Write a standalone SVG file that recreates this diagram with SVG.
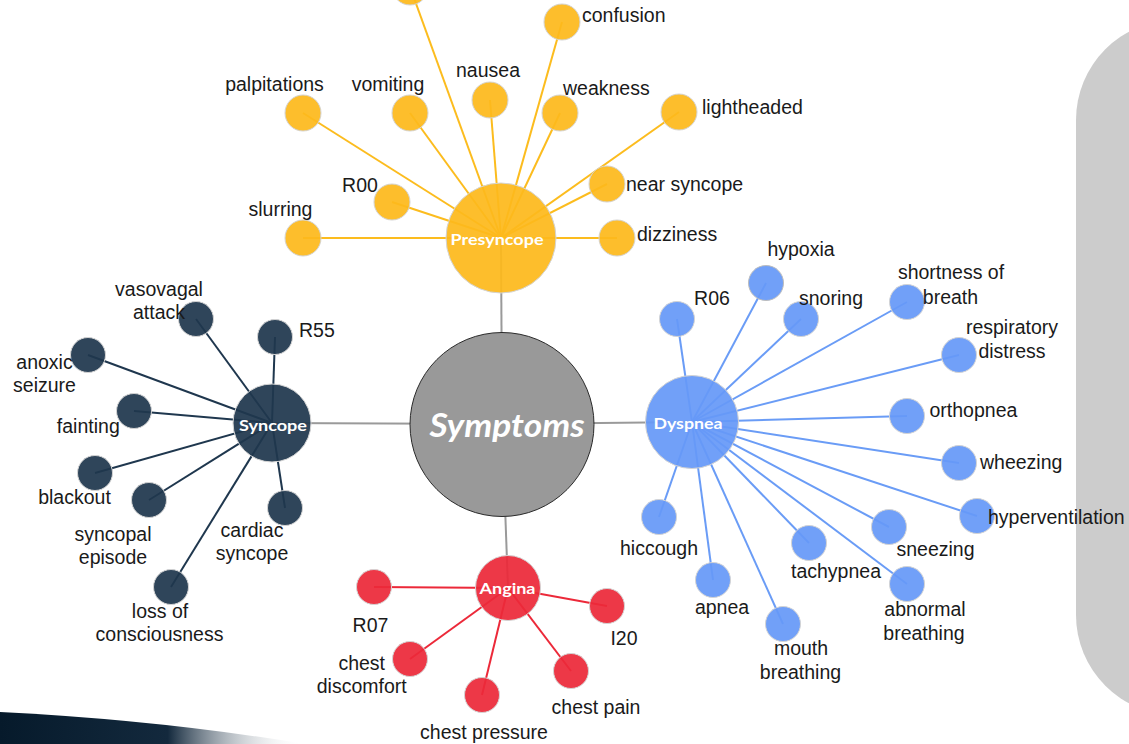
<svg xmlns="http://www.w3.org/2000/svg" width="1129" height="744" viewBox="0 0 1129 744">
<defs>
<linearGradient id="swoosh" x1="0" y1="0" x2="1" y2="0">
<stop offset="0" stop-color="#061a2b"/>
<stop offset="0.55" stop-color="#13293d"/>
<stop offset="1" stop-color="#ffffff" stop-opacity="0"/>
</linearGradient>
<style>
.lbl{font-family:"Liberation Sans",Arial,sans-serif;font-size:19.5px;fill:#1a1a1a}
.m{text-anchor:middle}
.hub{font-family:Lato,"Open Sans",sans-serif;font-weight:bold;font-size:16px;fill:#ffffff;text-anchor:middle}
.c{stroke:#d4d4d4;stroke-width:1;fill-opacity:0.93}
.pre{fill:#fdb91c}
.syn{fill:#1f374e}
.dys{fill:#6699f8}
.ang{fill:#ec2939}
.lp{stroke:#fcbc1e;stroke-width:2}
.ls{stroke:#1f374e;stroke-width:2}
.ld{stroke:#6a9cf6;stroke-width:2}
.la{stroke:#ec2939;stroke-width:2}
.lg{stroke:#9a9a9a;stroke-width:2}
</style>
</defs>
<rect x="0" y="0" width="1129" height="744" fill="#ffffff"/>
<rect x="1076" y="20" width="220" height="695" rx="100" ry="100" fill="#cccccc"/>
<path d="M0,712 Q160,720 305,744 L0,744 Z" fill="url(#swoosh)"/>

<g id="connectors">
<line class="lg" x1="502" y1="424" x2="501" y2="238"/>
<line class="lg" x1="502" y1="424" x2="272" y2="423"/>
<line class="lg" x1="502" y1="424" x2="692" y2="422"/>
<line class="lg" x1="502" y1="424" x2="508" y2="588"/>

<line class="lp" x1="501" y1="238" x2="410" y2="-13"/>
<line class="lp" x1="501" y1="238" x2="562" y2="22"/>
<line class="lp" x1="501" y1="238" x2="303" y2="113"/>
<line class="lp" x1="501" y1="238" x2="410" y2="113"/>
<line class="lp" x1="501" y1="238" x2="490" y2="100"/>
<line class="lp" x1="501" y1="238" x2="560" y2="113"/>
<line class="lp" x1="501" y1="238" x2="679" y2="112"/>
<line class="lp" x1="501" y1="238" x2="607" y2="184"/>
<line class="lp" x1="501" y1="238" x2="617" y2="238"/>
<line class="lp" x1="501" y1="238" x2="392" y2="202"/>
<line class="lp" x1="501" y1="238" x2="303" y2="238"/>

<line class="ls" x1="272" y1="423" x2="196" y2="319"/>
<line class="ls" x1="272" y1="423" x2="275" y2="337"/>
<line class="ls" x1="272" y1="423" x2="88" y2="355"/>
<line class="ls" x1="272" y1="423" x2="134" y2="411"/>
<line class="ls" x1="272" y1="423" x2="95" y2="473"/>
<line class="ls" x1="272" y1="423" x2="149" y2="500"/>
<line class="ls" x1="272" y1="423" x2="285" y2="508"/>
<line class="ls" x1="272" y1="423" x2="171" y2="587"/>

<line class="ld" x1="692" y1="422" x2="766" y2="283"/>
<line class="ld" x1="692" y1="422" x2="677" y2="319"/>
<line class="ld" x1="692" y1="422" x2="801" y2="319"/>
<line class="ld" x1="692" y1="422" x2="907" y2="302"/>
<line class="ld" x1="692" y1="422" x2="959" y2="355"/>
<line class="ld" x1="692" y1="422" x2="907" y2="416"/>
<line class="ld" x1="692" y1="422" x2="959" y2="463"/>
<line class="ld" x1="692" y1="422" x2="977" y2="516"/>
<line class="ld" x1="692" y1="422" x2="889" y2="527"/>
<line class="ld" x1="692" y1="422" x2="907" y2="584"/>
<line class="ld" x1="692" y1="422" x2="809" y2="543"/>
<line class="ld" x1="692" y1="422" x2="783" y2="624"/>
<line class="ld" x1="692" y1="422" x2="713" y2="580"/>
<line class="ld" x1="692" y1="422" x2="659" y2="517"/>

<line class="la" x1="508" y1="588" x2="374" y2="587"/>
<line class="la" x1="508" y1="588" x2="607" y2="606"/>
<line class="la" x1="508" y1="588" x2="410" y2="659"/>
<line class="la" x1="508" y1="588" x2="482" y2="695"/>
<line class="la" x1="508" y1="588" x2="571" y2="671"/>
</g>

<g id="symptoms">
<circle cx="502" cy="424.5" r="92" fill="#999999" stroke="#2a2a2a" stroke-width="1"/>
<text x="507" y="437" font-family="Lato,'Open Sans',sans-serif" font-weight="bold" font-style="italic" font-size="33" fill="#ffffff" text-anchor="middle" textLength="155" lengthAdjust="spacingAndGlyphs">Symptoms</text>
</g>

<g id="presyncope">
<circle class="c pre" cx="501" cy="238" r="55"/>
<text class="hub" x="497" y="245" textLength="93" lengthAdjust="spacingAndGlyphs">Presyncope</text>
</g>
<g id="syncope">
<circle class="c syn" cx="272" cy="423" r="39"/>
<text class="hub" x="273" y="430.5" font-size="15" textLength="68" lengthAdjust="spacingAndGlyphs">Syncope</text>
</g>
<g id="dyspnea">
<circle class="c dys" cx="692" cy="422" r="46.5"/>
<text class="hub" x="688" y="428.5" font-size="15" textLength="69" lengthAdjust="spacingAndGlyphs">Dyspnea</text>
</g>
<g id="angina">
<circle class="c ang" cx="508" cy="588" r="32.5"/>
<text class="hub" x="507.5" y="593.5" font-size="15" textLength="56" lengthAdjust="spacingAndGlyphs">Angina</text>
</g>

<g id="p-top"><circle class="c pre" cx="410" cy="-13" r="18"/></g>
<g id="p-confusion"><circle class="c pre" cx="562" cy="22" r="18"/><text class="lbl" x="582" y="22">confusion</text></g>
<g id="p-palpitations"><circle class="c pre" cx="303" cy="113" r="18"/><text class="lbl m" x="274.5" y="91">palpitations</text></g>
<g id="p-vomiting"><circle class="c pre" cx="410" cy="113" r="18"/><text class="lbl m" x="388" y="91">vomiting</text></g>
<g id="p-nausea"><circle class="c pre" cx="490" cy="100" r="18"/><text class="lbl m" x="488" y="77">nausea</text></g>
<g id="p-weakness"><circle class="c pre" cx="560" cy="113" r="18"/><text class="lbl" x="563" y="95">weakness</text></g>
<g id="p-lightheaded"><circle class="c pre" cx="679" cy="112" r="18"/><text class="lbl" x="702" y="114">lightheaded</text></g>
<g id="p-nearsyncope"><circle class="c pre" cx="607" cy="184" r="18"/><text class="lbl" x="626" y="191">near syncope</text></g>
<g id="p-dizziness"><circle class="c pre" cx="617" cy="238" r="18"/><text class="lbl" x="637" y="241">dizziness</text></g>
<g id="p-r00"><circle class="c pre" cx="392" cy="202" r="18"/><text class="lbl m" x="360" y="192">R00</text></g>
<g id="p-slurring"><circle class="c pre" cx="303" cy="238" r="18"/><text class="lbl m" x="280.5" y="216">slurring</text></g>

<g id="s-vasovagal"><circle class="c syn" cx="196" cy="319" r="17.5"/><text class="lbl m" x="159" y="296">vasovagal</text><text class="lbl m" x="159" y="319">attack</text></g>
<g id="s-r55"><circle class="c syn" cx="275" cy="337" r="17.5"/><text class="lbl" x="299" y="337">R55</text></g>
<g id="s-anoxic"><circle class="c syn" cx="88" cy="355" r="17.5"/><text class="lbl m" x="44.5" y="369">anoxic</text><text class="lbl m" x="44.5" y="392">seizure</text></g>
<g id="s-fainting"><circle class="c syn" cx="134" cy="411" r="17.5"/><text class="lbl m" x="88.3" y="432.5">fainting</text></g>
<g id="s-blackout"><circle class="c syn" cx="95" cy="473" r="17.5"/><text class="lbl m" x="74.5" y="504">blackout</text></g>
<g id="s-syncopal"><circle class="c syn" cx="149" cy="500" r="17.5"/><text class="lbl m" x="113" y="541">syncopal</text><text class="lbl m" x="113" y="564">episode</text></g>
<g id="s-cardiac"><circle class="c syn" cx="285" cy="508" r="17.5"/><text class="lbl m" x="252" y="536.5">cardiac</text><text class="lbl m" x="252" y="560">syncope</text></g>
<g id="s-loss"><circle class="c syn" cx="171" cy="587" r="17.5"/><text class="lbl m" x="160" y="617.5">loss of</text><text class="lbl m" x="159.5" y="641">consciousness</text></g>

<g id="d-hypoxia"><circle class="c dys" cx="766" cy="283" r="17.5" style="stroke:#bdbdbd"/><text class="lbl m" x="801" y="256">hypoxia</text></g>
<g id="d-r06"><circle class="c dys" cx="677" cy="319" r="17.5"/><text class="lbl m" x="712" y="305">R06</text></g>
<g id="d-snoring"><circle class="c dys" cx="801" cy="319" r="17.5"/><text class="lbl m" x="831" y="305">snoring</text></g>
<g id="d-shortness"><circle class="c dys" cx="907" cy="302" r="17.5"/><text class="lbl m" x="951" y="279">shortness of</text><text class="lbl m" x="950.5" y="303.5">breath</text></g>
<g id="d-respiratory"><circle class="c dys" cx="959" cy="355" r="17.5"/><text class="lbl m" x="1012" y="334">respiratory</text><text class="lbl m" x="1012" y="357.5">distress</text></g>
<g id="d-orthopnea"><circle class="c dys" cx="907" cy="416" r="17.5"/><text class="lbl" x="929.5" y="417">orthopnea</text></g>
<g id="d-wheezing"><circle class="c dys" cx="959" cy="463" r="17.5"/><text class="lbl" x="980" y="468.5">wheezing</text></g>
<g id="d-hyperventilation"><circle class="c dys" cx="977" cy="516" r="17.5"/><text class="lbl" x="988" y="524">hyperventilation</text></g>
<g id="d-sneezing"><circle class="c dys" cx="889" cy="527" r="17.5"/><text class="lbl m" x="935.5" y="556">sneezing</text></g>
<g id="d-abnormal"><circle class="c dys" cx="907" cy="584" r="17.5"/><text class="lbl m" x="925" y="616">abnormal</text><text class="lbl m" x="924" y="640">breathing</text></g>
<g id="d-tachypnea"><circle class="c dys" cx="809" cy="543" r="17.5"/><text class="lbl m" x="836" y="577.5">tachypnea</text></g>
<g id="d-mouth"><circle class="c dys" cx="783" cy="624" r="17.5"/><text class="lbl m" x="801" y="655">mouth</text><text class="lbl m" x="800.5" y="679">breathing</text></g>
<g id="d-apnea"><circle class="c dys" cx="713" cy="580" r="17.5"/><text class="lbl m" x="722" y="614">apnea</text></g>
<g id="d-hiccough"><circle class="c dys" cx="659" cy="517" r="17.5"/><text class="lbl m" x="659" y="555">hiccough</text></g>

<g id="a-r07"><circle class="c ang" cx="374" cy="587" r="17.5"/><text class="lbl m" x="370.5" y="632">R07</text></g>
<g id="a-i20"><circle class="c ang" cx="607" cy="606" r="17.5"/><text class="lbl m" x="624" y="645">I20</text></g>
<g id="a-discomfort"><circle class="c ang" cx="410" cy="659" r="17.5"/><text class="lbl m" x="361.7" y="670">chest</text><text class="lbl m" x="361.7" y="693">discomfort</text></g>
<g id="a-pressure"><circle class="c ang" cx="482" cy="695" r="17.5"/><text class="lbl m" x="484" y="738.5">chest pressure</text></g>
<g id="a-pain"><circle class="c ang" cx="571" cy="671" r="17.5"/><text class="lbl m" x="596" y="714">chest pain</text></g>
</svg>
